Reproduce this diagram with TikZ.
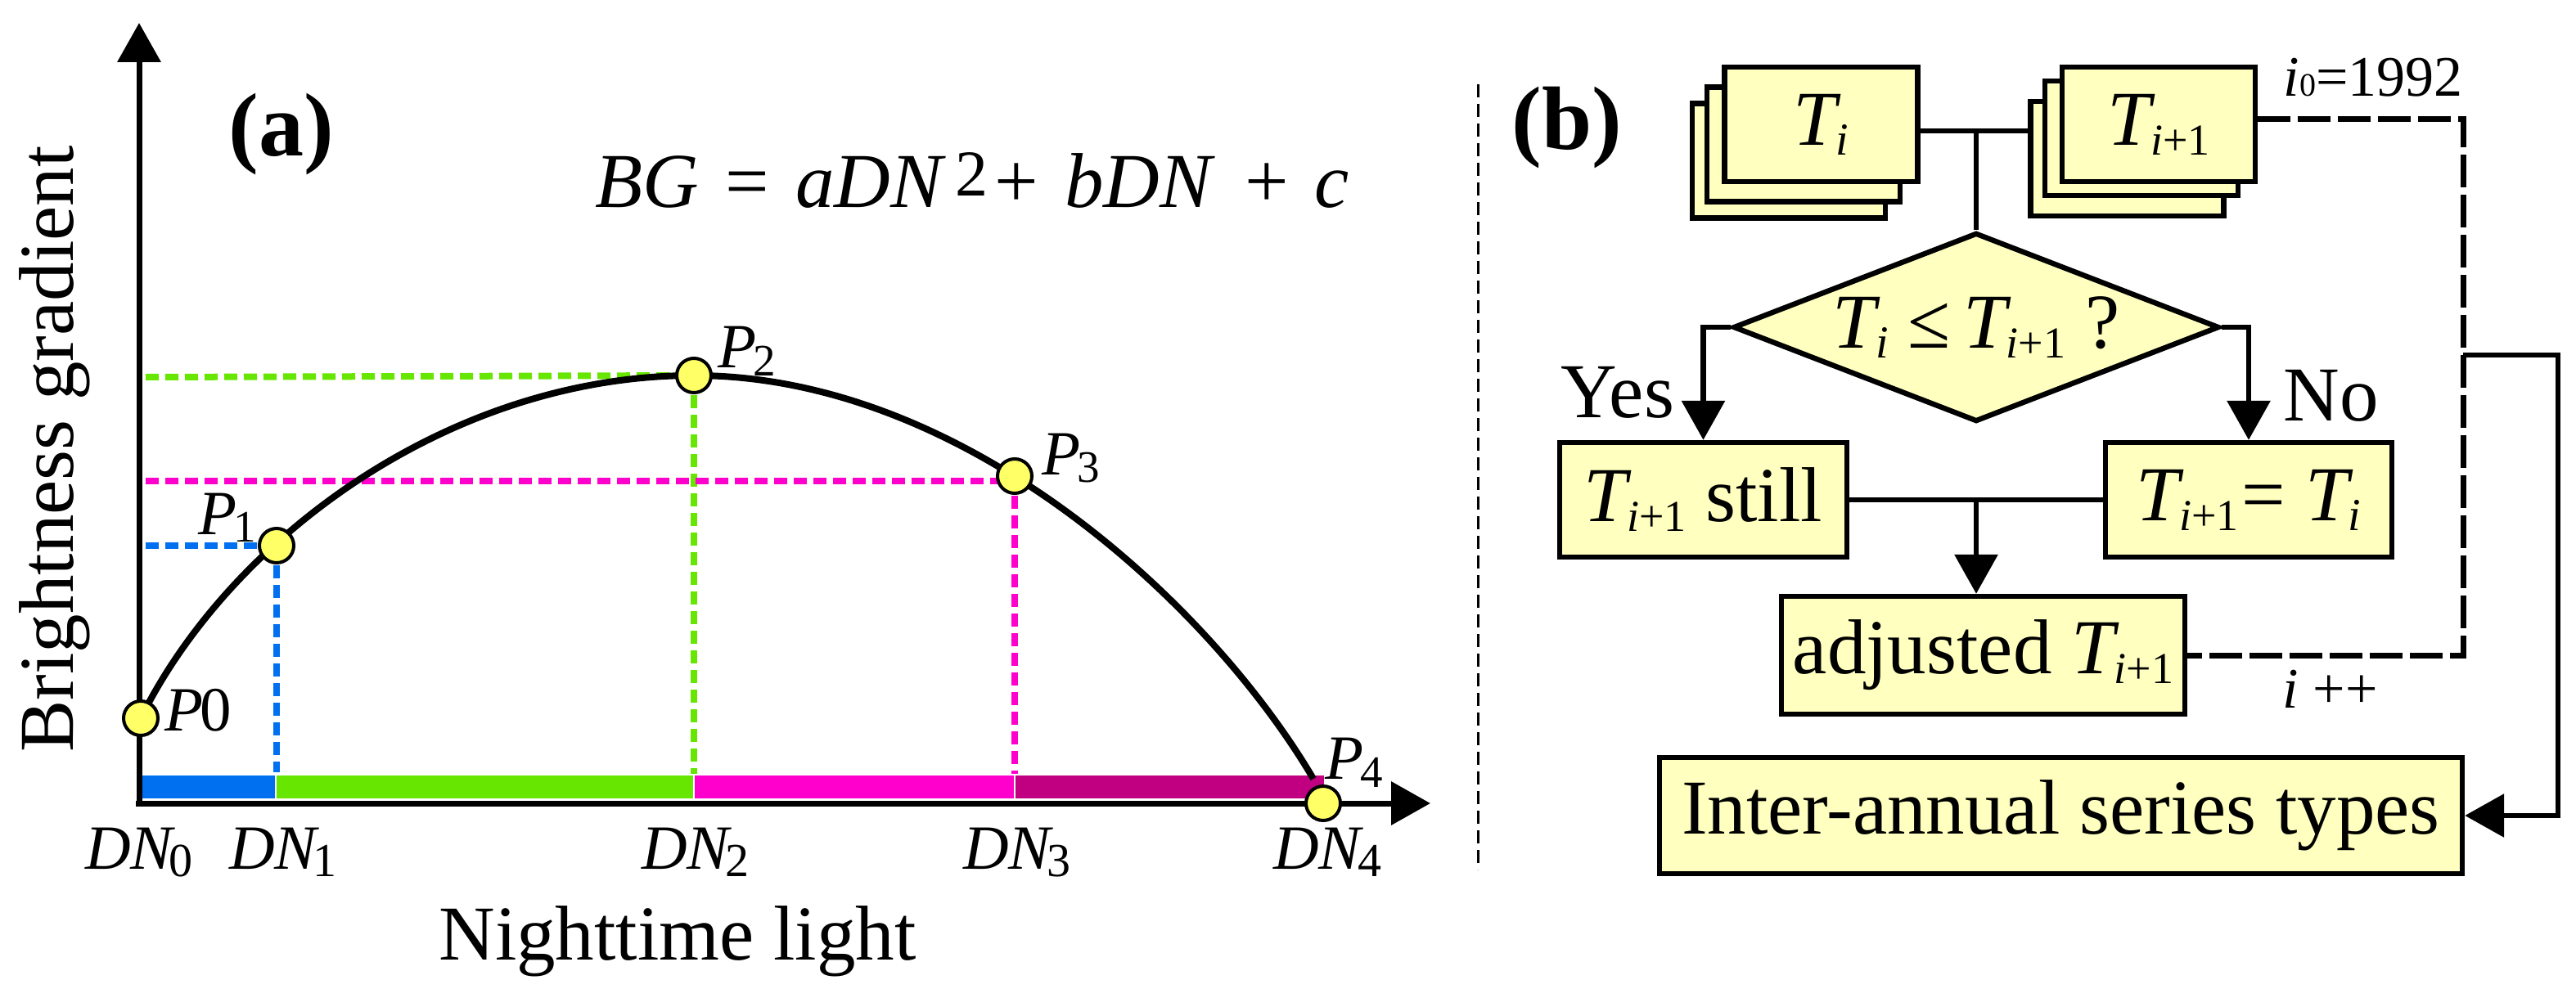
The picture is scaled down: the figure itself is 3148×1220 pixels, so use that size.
\documentclass[tikz,border=0pt]{standalone}
\usepackage{fontspec}
\setmainfont{Liberation Serif}
\usetikzlibrary{arrows.meta,shapes.geometric,calc}
\definecolor{boxy}{RGB}{255,255,192}
\definecolor{dotY}{RGB}{255,255,102}
\definecolor{cblue}{RGB}{0,112,240}
\definecolor{cgreen}{RGB}{102,230,0}
\definecolor{cpink}{RGB}{255,0,204}
\definecolor{cpurple}{RGB}{192,0,128}
\newcommand\fs[1]{\fontsize{#1}{#1}\selectfont}
\newcommand\TTi{\textit{T}\kern-1.5pt\raisebox{-3pt}{\fs{14pt}\textit{i}}}
\newcommand\TTip{\textit{T}\kern-1.5pt\raisebox{-3pt}{\fs{13.5pt}\textit{i}+1}}
\begin{document}
\begin{tikzpicture}[x=0.25pt,y=-0.25pt,
  tip/.style={-{Triangle[length=12pt,width=13pt]}},
  axis/.style={line width=1.75pt},
  curve/.style={line width=2pt},
  guide/.style={line width=2pt, dash pattern=on 4pt off 2pt},
  dot/.style={circle, fill=dotY, draw=black, line width=1pt, minimum size=10.5pt, inner sep=0pt},
  lbl/.style={inner sep=0pt, font=\fs{19.25pt}\itshape},
  flow/.style={draw=black, fill=boxy, line width=1.6pt, inner sep=0pt, font=\fs{23.75pt}},
  conn/.style={line width=1.6pt},
  loopline/.style={line width=1.75pt, dash pattern=on 10pt off 2.25pt},
  plain/.style={inner sep=0pt, font=\fs{23.75pt}},
]
\useasboundingbox (0,0) rectangle (3148,1220);

% ---------------- panel (a) ----------------
\coordinate (p0) at (172,878);
\coordinate (p1) at (338,667);
\coordinate (p2) at (848,459);
\coordinate (p3) at (1240,582);
\coordinate (p4) at (1617,982);

\fill[cblue]   (174,948) rectangle (336,976);
\fill[cgreen]  (338,948) rectangle (847,976);
\fill[cpink]   (849,948) rectangle (1239,976);
\fill[cpurple] (1241,948) rectangle (1618,976);

\draw[guide,cblue]  (178,667) -- (p1);
\draw[guide,cblue]  (p1) -- (338,944);
\draw[guide,cgreen] (178,461) -- (p2);
\draw[guide,cgreen] (p2) -- (848,946);
\draw[guide,cpink]  (178,588) -- (1240,588);
\draw[guide,cpink]  (p3) -- (1240,946);

\draw[axis,tip] (170,986) -- (170,28);
\draw[axis,tip] (166,982) -- (1748,982);

\draw[curve] (p0) .. controls (280,660) and (548,459) .. (p2)
                  .. controls (1180,459) and (1480,740) .. (1605,952);

\node[dot] (P0) at (p0) {};
\node[dot] (P1) at (p1) {};
\node[dot] (P2) at (p2) {};
\node[dot] (P3) at (p3) {};
\node[dot] (P4) at (p4) {};

\node[lbl,anchor=base west] (lP0) at (201,893) {P\kern-1pt\upshape0};
\node[lbl,anchor=base west] (lP1) at (242,653) {P\kern-1pt\raisebox{-2.25pt}{\fs{13.75pt}\upshape 1}};
\node[lbl,anchor=base west] (lP2) at (877,449) {P\kern-1pt\raisebox{-2.5pt}{\fs{13.75pt}\upshape 2}};
\node[lbl,anchor=base west] (lP3) at (1273,580) {P\kern-1pt\raisebox{-2.25pt}{\fs{13.75pt}\upshape 3}};
\node[lbl,anchor=base west] (lP4) at (1619,952) {P\kern-1pt\raisebox{-2.5pt}{\fs{13.75pt}\upshape 4}};

\node[lbl,anchor=base] (d0) at (170,1062) {DN\kern-1pt\raisebox{-2.25pt}{\fs{14.5pt}\upshape 0}};
\node[lbl,anchor=base] (d1) at (346,1062) {DN\kern-1pt\raisebox{-2.25pt}{\fs{14.5pt}\upshape 1}};
\node[lbl,anchor=base] (d2) at (850,1062) {DN\kern-1pt\raisebox{-2.25pt}{\fs{14.5pt}\upshape 2}};
\node[lbl,anchor=base] (d3) at (1243,1062) {DN\kern-1pt\raisebox{-2.25pt}{\fs{14.5pt}\upshape 3}};
\node[lbl,anchor=base] (d4) at (1622,1062) {DN\kern-1pt\raisebox{-2.25pt}{\fs{14.5pt}\upshape 4}};

\node[plain,anchor=base] (xl) at (828,1173) {Nighttime light};
\node[plain,anchor=base,rotate=90] (yl) at (89,549) {Brightness gradient};
\node[inner sep=0pt,font=\fs{27.5pt}\bfseries] (la) at (344,164) {(a)};
\node[plain,anchor=base west] (eq) at (727,253) {\textit{BG}\hspace{8pt}=\hspace{8pt}\textit{aDN}\kern3pt\raisebox{3.5pt}{\fs{20pt}2}\kern2pt+\hspace{8pt}\textit{bDN}\hspace{9pt}+\hspace{8pt}\textit{c}};

% ---------------- separator ----------------
\draw[line width=0.75pt, dash pattern=on 4pt off 2pt] (1806,103) -- (1806,1063);

% ---------------- panel (b) ----------------
\node[inner sep=0pt,font=\fs{27.5pt}\bfseries] (lb) at (1915,156) {(b)};

\node[flow,minimum width=59pt,minimum height=35pt] (Tib) at (2186,196.5) {};
\node[flow,minimum width=59pt,minimum height=35pt] (Tim) at (2204,176.5) {};
\node[flow,minimum width=59pt,minimum height=35pt] (Ti)  at (2225.5,152) {\TTi};

\node[flow,minimum width=59pt,minimum height=35pt] (Tpb) at (2599.5,194) {};
\node[flow,minimum width=59pt,minimum height=35pt] (Tpm) at (2617,169) {};
\node[flow,minimum width=59pt,minimum height=35pt] (Tp)  at (2638,152) {\TTip};

\node[flow,diamond,shape aspect=2.5,minimum width=148.5pt,minimum height=57.75pt] (dia) at (2415,400) {\TTi\ ≤\,\TTip\ ?};

\node[flow,minimum width=87.75pt,minimum height=35pt] (yes) at (2081.5,611) {\TTip\ still};
\node[flow,minimum width=87.5pt,minimum height=35pt] (no) at (2748,611) {\TTip\kern1pt= \TTi};
\node[flow,minimum width=123.25pt,minimum height=36pt] (adj) at (2423.5,801) {adjusted \TTip};
\node[flow,minimum width=245.25pt,minimum height=35.5pt] (inter) at (2518.5,997) {Inter-annual series types};

\coordinate (j) at (2415,160);
\draw[conn] (Ti.east |- j) -- (Tpb.west |- j);
\draw[conn] (j) -- (dia.north);
\draw[conn,tip] (dia.west) -| (yes.north);
\draw[conn,tip] (dia.east) -| (no.north);
\draw[conn] (yes.east) -- (no.west);
\coordinate (m) at ($(yes.east)!0.5!(no.west)$);
\draw[conn,tip] (m) -- (m |- adj.north);

\coordinate (c1) at (3010,146);
\coordinate (c2) at (3010,801);
\draw[loopline] (Tp.east |- c1) -- (c1) -- (c2) -- (adj.east);
\coordinate (s1) at (3010,434);
\coordinate (s2) at (3126,434);
\draw[conn,tip] (s1) -- (s2) |- (inter.east);

\node[plain,anchor=base west] (ly) at (1907,510) {Yes};
\node[plain,anchor=base west] (ln) at (2790,514) {No};
\node[inner sep=0pt,anchor=base west,font=\fs{17.5pt}] (li0) at (2790,118) {\textit{i}{\fs{10pt}0}=1992};
\node[inner sep=0pt,anchor=base west,font=\fs{17.5pt}] (lii) at (2789,865) {\textit{i} ++};
\end{tikzpicture}
\end{document}
